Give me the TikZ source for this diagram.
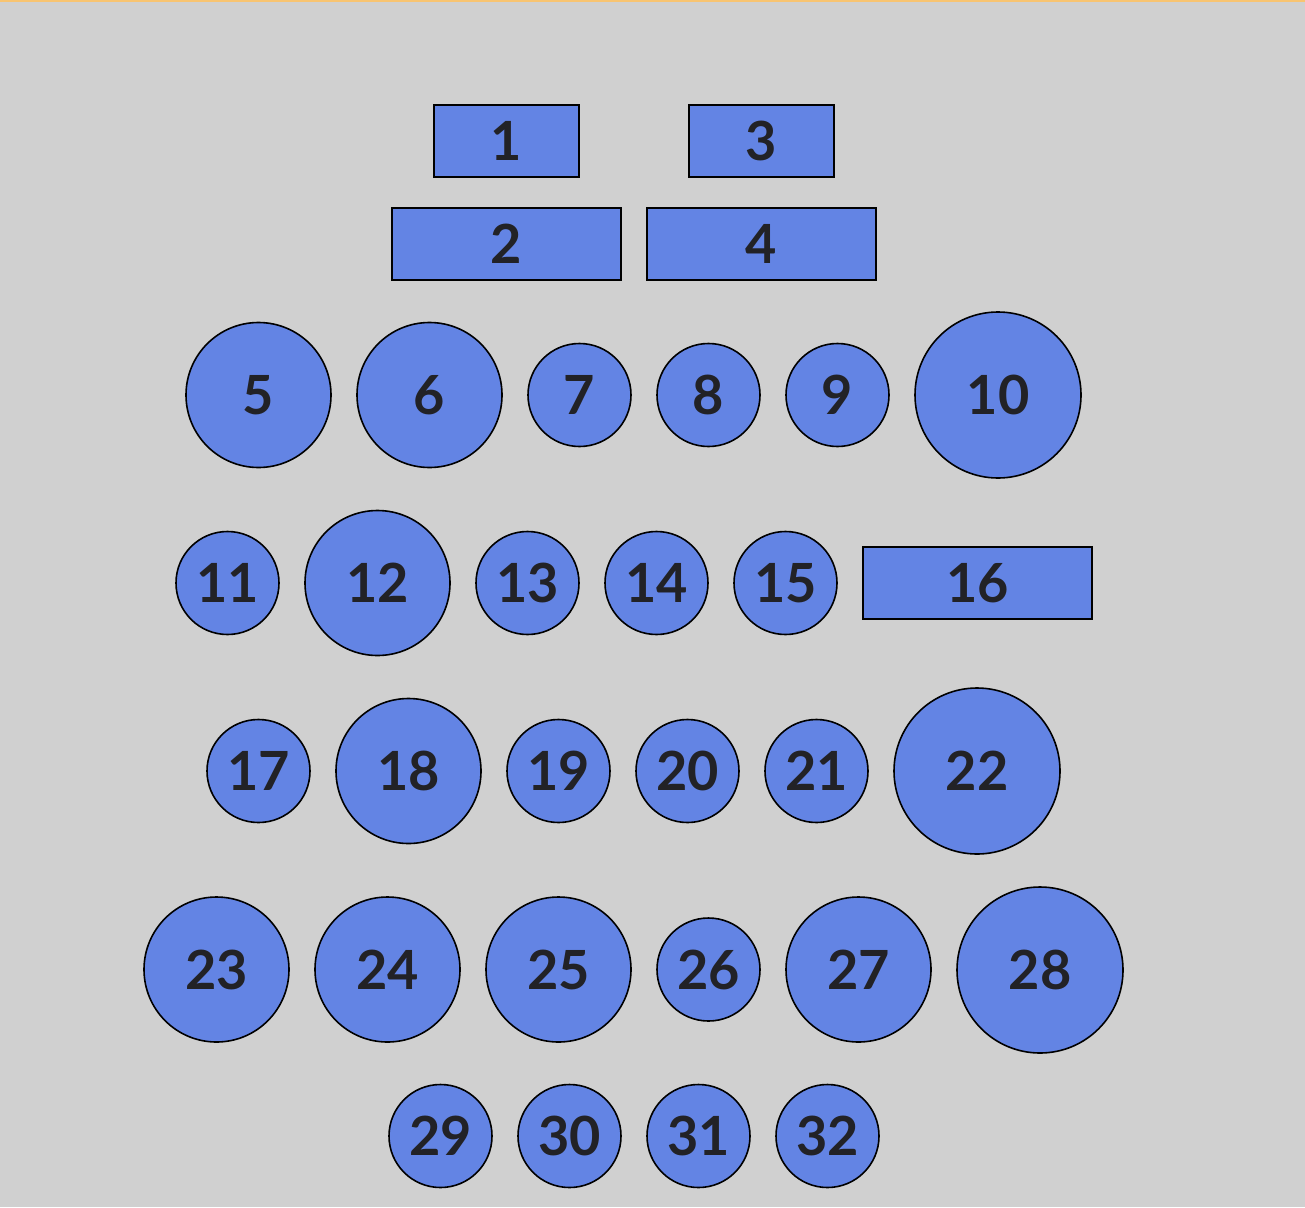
\documentclass[tikz,border=0pt]{standalone}
\usepackage{fontspec}
\setmainfont{Lato}
\definecolor{bg}{HTML}{D0D0D0}
\definecolor{nodefill}{HTML}{6384E4}
\definecolor{topline}{HTML}{F8C471}
\definecolor{txt}{HTML}{222226}
\begin{document}
\begin{tikzpicture}[x=1pt,y=-1pt,
  basebox/.style={draw=black,line width=1.6pt,fill=nodefill,text=txt,inner sep=0pt,
    font=\fontsize{54}{54}\selectfont\bfseries},
  sqbox/.style={basebox,rectangle,minimum height=72pt},
  rectsmall/.style={sqbox,minimum width=145pt},
  rectlong/.style={sqbox,minimum width=229pt},
  circsmall/.style={basebox,circle,minimum size=103pt},
  circmid/.style={basebox,circle,minimum size=145pt},
  circlarge/.style={basebox,circle,minimum size=166pt}]
\fill[bg] (0,0) rectangle (1305,1207);
\fill[topline] (0,0) rectangle (1305,2);
\useasboundingbox (0,0) rectangle (1305,1207);
\node[rectsmall] (n1) at (506.5,141) {1};
\node[rectsmall] (n3) at (761.5,141) {3};
\node[rectlong] (n2) at (506.5,244) {2};
\node[rectlong] (n4) at (761.5,244) {4};
\node[circmid] (n5) at (258.5,395) {5};
\node[circmid] (n6) at (429.5,395) {6};
\node[circsmall] (n7) at (579.5,395) {7};
\node[circsmall] (n8) at (708.5,395) {8};
\node[circsmall] (n9) at (837.5,395) {9};
\node[circlarge] (n10) at (998,395) {10};
\node[circsmall] (n11) at (227.5,583) {11};
\node[circmid] (n12) at (377.5,583) {12};
\node[circsmall] (n13) at (527.5,583) {13};
\node[circsmall] (n14) at (656.5,583) {14};
\node[circsmall] (n15) at (785.5,583) {15};
\node[rectlong] (n16) at (977.5,583) {16};
\node[circsmall] (n17) at (258.5,771) {17};
\node[circmid] (n18) at (408.5,771) {18};
\node[circsmall] (n19) at (558.5,771) {19};
\node[circsmall] (n20) at (687.5,771) {20};
\node[circsmall] (n21) at (816.5,771) {21};
\node[circlarge] (n22) at (977,771) {22};
\node[circmid] (n23) at (216.5,969.5) {23};
\node[circmid] (n24) at (387.5,969.5) {24};
\node[circmid] (n25) at (558.5,969.5) {25};
\node[circsmall] (n26) at (708.5,969.5) {26};
\node[circmid] (n27) at (858.5,969.5) {27};
\node[circlarge] (n28) at (1040,970) {28};
\node[circsmall] (n29) at (440.5,1136) {29};
\node[circsmall] (n30) at (569.5,1136) {30};
\node[circsmall] (n31) at (698.5,1136) {31};
\node[circsmall] (n32) at (827.5,1136) {32};
\end{tikzpicture}
\end{document}
